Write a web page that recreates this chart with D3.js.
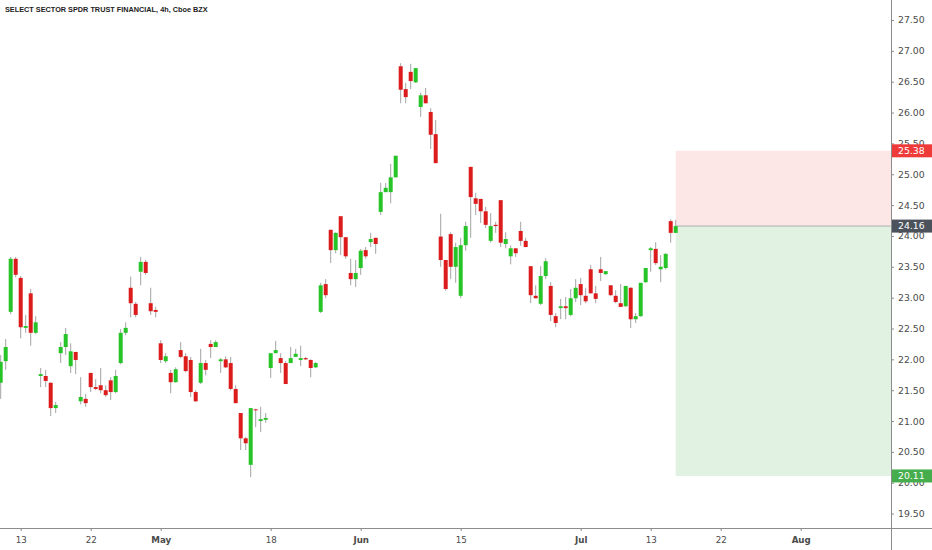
<!DOCTYPE html>
<html>
<head>
<meta charset="utf-8">
<script src="https://cdn.jsdelivr.net/npm/d3@7"></script>
<style>
  html, body { margin: 0; padding: 0; background: #fff; }
  svg { display: block; font-family: "DejaVu Sans", sans-serif; }
</style>
</head>
<body>
<svg id="chart" width="932" height="550"></svg>
<script>
const TITLE = 'SELECT SECTOR SPDR TRUST FINANCIAL, 4h, Cboe BZX';

// 4h bars, two per session, starting Apr 8 2020
const opens = [
  21.62, 21.97, 22.77, 23.63, 23.32, 22.51, 23.07, 22.43, 21.73, 21.73,
  21.62, 21.21, 22.10, 22.20, 21.89, 22.12, 21.32, 21.36, 21.78, 21.55,
  21.58, 21.50, 21.66, 21.47, 21.94, 22.43, 23.16, 22.90, 23.42, 23.58,
  22.91, 22.80, 22.26, 21.97, 21.78, 21.63, 22.15, 22.05, 21.99, 21.47,
  21.62, 21.94, 22.25, 22.20, 21.97, 22.00, 21.94, 21.52, 21.13, 20.72,
  20.29, 21.19, 21.00, 21.02, 21.86, 22.10, 22.02, 21.94, 21.94, 22.04,
  21.99, 22.02, 21.99, 21.87, 22.77, 23.22, 24.10, 23.77, 24.32, 23.98,
  23.40, 23.30, 23.48, 23.77, 23.90, 23.97, 24.39, 24.71, 24.71, 24.95,
  26.75, 26.38, 26.66, 26.49, 26.09, 26.28, 26.01, 25.65, 23.99, 23.61,
  24.03, 23.50, 23.03, 23.85, 25.12, 24.61, 24.60, 24.40, 23.92, 24.18,
  24.58, 23.87, 23.67, 23.80, 24.08, 23.92, 23.51, 23.03, 22.90, 23.35,
  23.19, 22.70, 22.83, 22.86, 22.72, 22.99, 23.22, 23.03, 23.46, 23.07,
  23.46, 23.38, 23.20, 23.03, 22.91, 22.86, 23.16, 22.65, 22.70, 23.25,
  23.77, 23.79, 23.46, 23.48, 24.24, 24.05
];
const highs = [
  22.07, 22.33, 23.66, 23.66, 23.35, 22.72, 23.14, 22.70, 21.86, 21.83,
  21.63, 21.31, 22.28, 22.51, 22.26, 22.12, 21.71, 21.44, 21.78, 21.68,
  21.86, 21.58, 21.71, 21.83, 22.49, 22.60, 23.34, 22.93, 23.66, 23.61,
  23.16, 22.85, 22.31, 22.10, 21.83, 21.87, 22.28, 22.10, 22.04, 21.50,
  22.17, 21.99, 22.31, 22.31, 22.02, 22.05, 22.04, 21.58, 21.13, 20.74,
  21.21, 21.20, 21.23, 21.13, 22.10, 22.30, 22.10, 21.97, 22.20, 22.17,
  22.22, 22.04, 22.00, 21.96, 23.24, 23.30, 24.10, 24.06, 24.32, 23.98,
  23.63, 23.61, 23.79, 23.82, 24.05, 23.97, 24.86, 24.86, 25.17, 25.30,
  26.80, 26.48, 26.79, 26.72, 26.32, 26.40, 26.07, 25.88, 24.36, 23.61,
  24.06, 23.89, 23.97, 24.23, 25.12, 24.70, 24.60, 24.47, 24.37, 24.23,
  24.58, 24.06, 23.85, 23.80, 24.23, 23.97, 23.51, 23.20, 23.51, 23.64,
  23.25, 22.75, 22.98, 23.01, 23.14, 23.30, 23.32, 23.16, 23.53, 23.19,
  23.66, 23.43, 23.20, 23.12, 23.22, 23.19, 23.17, 22.75, 23.24, 23.48,
  23.82, 23.90, 23.69, 23.72, 24.27, 24.26
];
const lows = [
  21.36, 21.83, 22.73, 23.33, 22.34, 22.43, 22.22, 22.41, 21.55, 21.55,
  21.08, 21.13, 21.94, 22.07, 21.78, 21.76, 21.27, 21.23, 21.47, 21.50,
  21.45, 21.39, 21.34, 21.45, 21.92, 22.39, 22.68, 22.68, 23.20, 23.37,
  22.72, 22.68, 21.94, 21.94, 21.45, 21.62, 22.02, 21.79, 21.39, 21.31,
  21.60, 21.74, 22.02, 22.20, 21.78, 21.86, 21.50, 21.29, 20.53, 20.53,
  20.09, 20.90, 20.82, 20.97, 21.70, 22.10, 21.78, 21.60, 21.94, 22.04,
  21.89, 21.99, 21.71, 21.86, 22.75, 22.99, 23.56, 23.72, 23.69, 23.63,
  23.20, 23.17, 23.37, 23.63, 23.82, 23.71, 24.34, 24.71, 24.53, 24.95,
  26.15, 26.15, 26.38, 26.48, 25.93, 26.15, 25.41, 25.18, 23.50, 23.11,
  23.30, 23.24, 22.99, 23.76, 23.97, 24.34, 24.21, 24.13, 23.89, 24.05,
  23.82, 23.80, 23.54, 23.66, 23.84, 23.82, 22.91, 22.99, 22.88, 23.30,
  22.62, 22.52, 22.65, 22.65, 22.70, 22.93, 22.88, 22.91, 23.07, 22.91,
  23.27, 23.37, 23.03, 22.91, 22.85, 22.85, 22.51, 22.59, 22.69, 23.24,
  23.42, 23.53, 23.25, 23.46, 23.89, 24.05
];
const closes = [
  21.96, 22.20, 23.63, 23.37, 22.52, 22.54, 22.43, 22.60, 21.76, 21.65,
  21.21, 21.26, 22.20, 22.41, 22.13, 21.99, 21.39, 21.29, 21.55, 21.52,
  21.50, 21.42, 21.47, 21.73, 22.43, 22.51, 22.91, 22.72, 23.58, 23.40,
  22.78, 22.77, 21.99, 22.05, 21.63, 21.84, 22.04, 21.81, 21.47, 21.32,
  21.94, 21.83, 22.20, 22.28, 22.00, 21.87, 21.52, 21.29, 20.72, 20.64,
  21.21, 21.18, 21.03, 21.05, 22.10, 22.15, 21.94, 21.60, 22.02, 22.09,
  22.02, 22.00, 21.86, 21.94, 23.20, 23.04, 23.77, 24.05, 23.98, 23.67,
  23.30, 23.40, 23.76, 23.67, 23.95, 23.87, 24.71, 24.78, 24.95, 25.30,
  26.37, 26.25, 26.51, 26.72, 26.28, 26.15, 25.64, 25.18, 23.61, 23.14,
  23.50, 23.82, 23.85, 24.16, 24.63, 24.52, 24.40, 24.18, 24.16, 24.16,
  23.89, 23.95, 23.80, 23.72, 23.92, 23.82, 23.04, 22.99, 23.35, 23.59,
  22.72, 22.59, 22.86, 22.83, 22.99, 23.16, 23.04, 22.94, 23.07, 22.98,
  23.40, 23.43, 23.04, 22.93, 22.85, 23.19, 22.65, 22.70, 23.24, 23.48,
  23.80, 23.56, 23.50, 23.71, 24.05, 24.16
];

const priceTicks = [19.5, 20, 20.5, 21, 21.5, 22, 22.5, 23, 23.5, 24, 24.5, 25, 25.5, 26, 26.5, 27, 27.5];
const dateTicks  = [4, 18, 32, 54, 72, 92, 116, 130, 144, 160];
const dateLabels = ['13', '22', 'May', '18', 'Jun', '15', 'Jul', '13', '22', 'Aug'];
const monthNames = ['May', 'Jun', 'Jul', 'Aug'];

// short position tool on the last bar
const entryBar = 135;
const entryPrice = 24.16;
const stopPrice = 25.38;
const targetPrice = 20.11;

const W = 932, H = 550;
const axisX = 891, axisY = 528;

const svg = d3.select('#chart');

const x = d3.scaleLinear().domain([-0.14, 178.06]).range([0, axisX]);
const y = d3.scaleLinear().domain([19.5, 27.5]).range([513.6, 20]);

// Position zones
const zoneX0 = x(entryBar), zoneX1 = axisX;
svg.append('rect')
  .attr('x', zoneX0).attr('width', zoneX1 - zoneX0)
  .attr('y', y(stopPrice)).attr('height', y(entryPrice) - y(stopPrice))
  .attr('fill', '#fde6e6');
svg.append('rect')
  .attr('x', zoneX0).attr('width', zoneX1 - zoneX0)
  .attr('y', y(entryPrice)).attr('height', y(targetPrice) - y(entryPrice))
  .attr('fill', '#e1f2e2');
svg.append('line')
  .attr('x1', zoneX0).attr('x2', zoneX1)
  .attr('y1', y(entryPrice)).attr('y2', y(entryPrice))
  .attr('stroke', '#a9b3ab').attr('stroke-width', 1);

// Candles
const bars = opens.map((o, i) => ({ i, o, h: highs[i], l: lows[i], c: closes[i] }));
const candle = svg.append('g').selectAll('g')
  .data(bars)
  .join('g');

candle.append('line')
  .attr('x1', d => x(d.i)).attr('x2', d => x(d.i))
  .attr('y1', d => y(d.h)).attr('y2', d => y(d.l))
  .attr('stroke', '#a3a3a3').attr('stroke-width', 1);

candle.append('rect')
  .attr('x', d => x(d.i) - 2)
  .attr('width', 4)
  .attr('y', d => y(Math.max(d.o, d.c)))
  .attr('height', d => Math.max(1, Math.abs(y(d.o) - y(d.c))))
  .attr('fill', d => d.c >= d.o ? '#27c427' : '#dc1c1c');

// Axes
svg.append('line')
  .attr('x1', 0).attr('x2', W).attr('y1', axisY + 0.5).attr('y2', axisY + 0.5)
  .attr('stroke', '#8c8c8c');
svg.append('line')
  .attr('x1', axisX + 0.5).attr('x2', axisX + 0.5).attr('y1', 0).attr('y2', H)
  .attr('stroke', '#8c8c8c');

const xAxis = svg.append('g')
  .attr('transform', `translate(0,${axisY})`)
  .call(d3.axisBottom(x).tickValues(dateTicks).tickFormat((d, i) => dateLabels[i]).tickSize(3));
xAxis.select('.domain').remove();
xAxis.selectAll('line').attr('stroke', '#8c8c8c');
xAxis.selectAll('text')
  .attr('y', 12).attr('dy', '0.35em')
  .attr('fill', '#4a4a4a')
  .attr('font-family', '"DejaVu Sans", sans-serif')
  .attr('font-size', 8.7)
  .attr('font-weight', d => monthNames.includes(dateLabels[dateTicks.indexOf(d)]) ? 'bold' : 'normal');

const yAxis = svg.append('g')
  .attr('transform', `translate(${axisX},0)`)
  .call(d3.axisRight(y).tickValues(priceTicks).tickFormat(d3.format('.2f')).tickSize(3));
yAxis.select('.domain').remove();
yAxis.selectAll('line').attr('stroke', '#8c8c8c');
yAxis.selectAll('text')
  .attr('x', 7)
  .attr('fill', '#4a4a4a')
  .attr('font-family', '"DejaVu Sans", sans-serif')
  .attr('font-size', 9.3);

// Price labels on the axis
const priceLabels = [
  { v: stopPrice, fill: '#ef3a3a' },
  { v: entryPrice, fill: '#4c525c' },
  { v: targetPrice, fill: '#45ad4b' }
];
const pl = svg.append('g').selectAll('g').data(priceLabels).join('g')
  .attr('transform', d => `translate(${axisX + 1},${y(d.v)})`);
pl.append('rect')
  .attr('x', 0).attr('y', -6.5).attr('width', W - axisX).attr('height', 13)
  .attr('fill', d => d.fill);
pl.append('text')
  .attr('x', 6).attr('dy', '0.35em')
  .attr('fill', '#fff')
  .attr('font-size', 9.3)
  .text(d => d.v.toFixed(2));

// Title
svg.append('text')
  .attr('x', 5).attr('y', 12)
  .attr('font-family', '"Liberation Sans", Arial, sans-serif')
  .attr('font-weight', 'bold')
  .attr('font-size', 7.3)
  .attr('fill', '#222')
  .text(TITLE);
</script>
</body>
</html>
